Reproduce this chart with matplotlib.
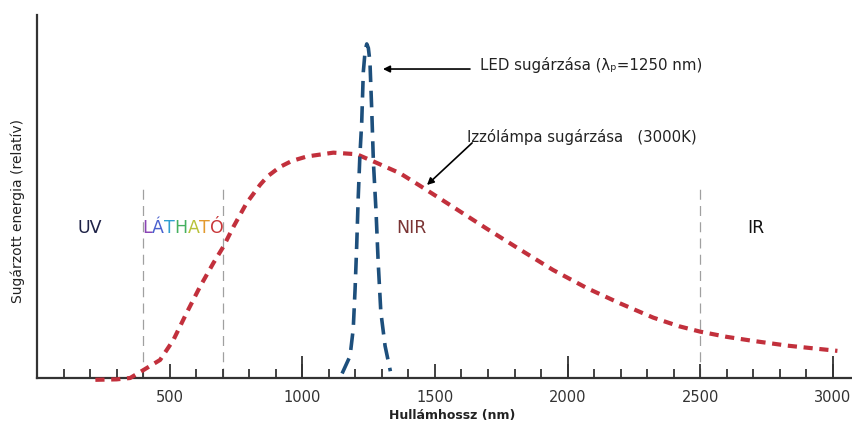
import matplotlib
matplotlib.use("Agg")
import matplotlib.pyplot as plt
from matplotlib.ticker import MultipleLocator, NullFormatter
from matplotlib import transforms

# ---------------- data ----------------
lamp_nm = [220, 300, 351, 401, 464, 514, 564, 614, 665, 702, 740, 790, 841, 870,
           916, 960, 1017, 1117, 1205, 1280, 1368, 1443, 1568, 1696, 1821, 1945,
           2074, 2198, 2323, 2420, 2500, 2600, 2700, 2830, 3017]
lamp_val = [-0.008, -0.006, 0.0, 0.035, 0.08, 0.168, 0.288, 0.403, 0.509, 0.58,
            0.668, 0.774, 0.855, 0.893, 0.934, 0.96, 0.98, 0.997, 0.99, 0.952,
            0.906, 0.851, 0.757, 0.66, 0.568, 0.478, 0.397, 0.33, 0.267, 0.229,
            0.205, 0.182, 0.164, 0.143, 0.12]

led_nm = [1150, 1180, 1192, 1199, 1205, 1211, 1217, 1224, 1230, 1237, 1243, 1249,
          1255, 1262, 1268, 1278, 1286, 1296, 1312, 1332]
led_val = [0.02, 0.097, 0.217, 0.394, 0.584, 0.805, 0.982, 1.133, 1.354, 1.45,
           1.478, 1.46, 1.398, 1.177, 0.956, 0.735, 0.513, 0.292, 0.142, 0.03]

region_bounds = [400, 700, 2500]
region_names = ["UV", "NIR", "IR"]
region_pos = [200, 1413, 2710]
region_colors = ["#1f2347", "#7a3434", "#111111"]
visible_letters = ["L", "Á", "T", "H", "A", "T", "Ó"]
visible_colors = ["#8a45b5", "#4a62cf", "#2f9fd0", "#45b060", "#b8c23a", "#e39a2e", "#c9383a"]
tick_labels = ["500", "1000", "1500", "2000", "2500", "3000"]

# ---------------- figure ----------------
fig = plt.figure(figsize=(8.52, 4.22), dpi=100)
W, H = 852, 422
ax = fig.add_axes([37 / W, (H - 378) / H, (W - 37) / W, (378 - 15) / H])
ax.set_xlim(0, 3072)
ax.set_ylim(0, 1.606)

for s in ["top", "right"]:
    ax.spines[s].set_visible(False)
for s in ["left", "bottom"]:
    ax.spines[s].set_color("#333333")
    ax.spines[s].set_linewidth(1.6)
ax.set_yticks([])

ax.xaxis.set_minor_locator(MultipleLocator(100))
ax.set_xticks([500, 1000, 1500, 2000, 2500, 3000])
ax.set_xticklabels(tick_labels)
ax.tick_params(axis="x", which="major", direction="in", length=10, width=1.3,
               color="#333333", pad=9, labelsize=10.5, labelcolor="#333333")
ax.tick_params(axis="x", which="minor", direction="in", length=6.5, width=1.3,
               color="#333333")

sec = ax.secondary_xaxis("bottom")
sec.set_xticks([1000, 2000, 3000])
sec.xaxis.set_major_formatter(NullFormatter())
sec.tick_params(direction="in", length=16, width=1.3, color="#333333")
sec.spines["bottom"].set_visible(False)

# region boundaries
for b in region_bounds:
    ax.plot([b, b], [0, 0.863], color="#a0a0a0", lw=0.9,
            linestyle=(0, (8, 5)), zorder=1)

# curves
ax.plot(lamp_nm, lamp_val, color="#c2303c", lw=3.0,
        linestyle=(0, (2.2, 1.6)), dash_capstyle="butt", clip_on=False, zorder=3)
ax.plot(led_nm, led_val, color="#1d4f7c", lw=2.6,
        linestyle=(0, (4.6, 2.4)), dash_capstyle="butt", clip_on=False, zorder=4)

# region labels
for name, x, c in zip(region_names, region_pos, region_colors):
    ax.text(x, 0.664, name, ha="center", va="center", fontsize=12.5, color=c)

# multicolour "LÁTHATÓ"
fig.canvas.draw()
renderer = fig.canvas.get_renderer()
trans = ax.transData
for ch, c in zip(visible_letters, visible_colors):
    t = ax.text(396, 0.664, ch, ha="left", va="center", fontsize=12.5,
                color=c, transform=trans)
    bb = t.get_window_extent(renderer=renderer)
    trans = transforms.offset_copy(trans, fig=fig, x=bb.width * 72 / fig.dpi, units="points")

# annotations
ax.annotate("", xy=(1304, 1.367), xytext=(1632, 1.367),
            arrowprops=dict(arrowstyle="-|>", color="black", lw=1.2,
                            mutation_scale=10, shrinkA=0, shrinkB=0))
ax.text(1670, 1.385, "LED sugárzása (λₚ=1250 nm)", ha="left", va="center",
        fontsize=10.8, color="#222222")

ax.annotate("", xy=(1470, 0.854), xytext=(1640, 1.040),
            arrowprops=dict(arrowstyle="-|>", color="black", lw=1.2,
                            mutation_scale=10, shrinkA=0, shrinkB=0))
ax.text(1621, 1.066, "Izzólámpa sugárzása   (3000K)", ha="left", va="center",
        fontsize=10.7, color="#222222")

# axis labels
fig.text(18 / W, 1 - 211 / H, "Sugárzott energia (relatív)", rotation=90,
         ha="center", va="center", fontsize=10, color="#222222")
fig.text(452 / W, 1 - 416 / H, "Hullámhossz (nm)", ha="center", va="center",
         fontsize=9, fontweight="bold", color="#222222")

fig.savefig("out.png", dpi=100)
